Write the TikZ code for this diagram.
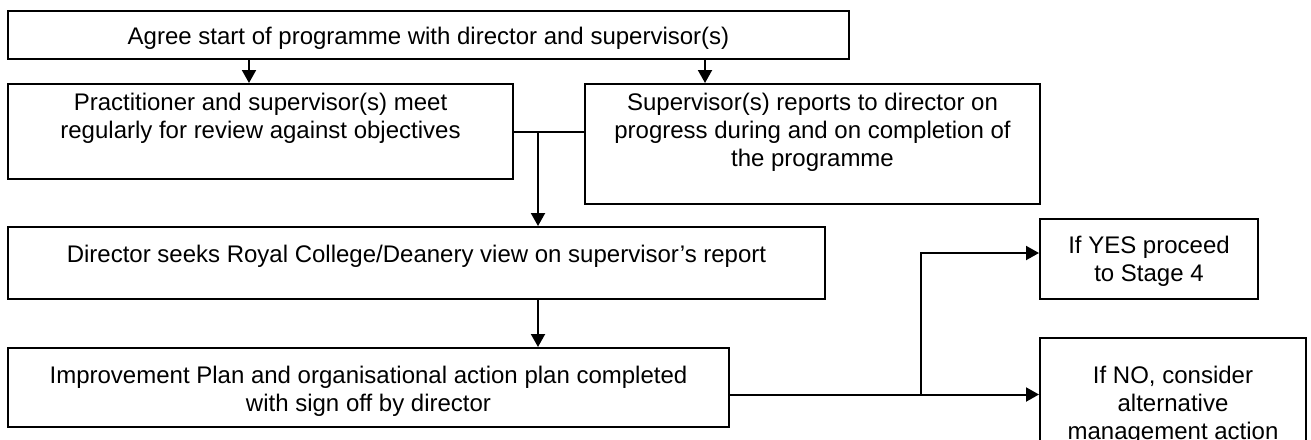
\documentclass[tikz,border=0pt]{standalone}
\usepackage{fontspec}
\setmainfont{Liberation Sans}
\usepackage{tikz}
\usetikzlibrary{arrows.meta, positioning}

% text block of a box: width, height, first baseline, lines
\newcommand{\boxtxt}[4]{\parbox[t][#2][t]{#1}{\centering\rule{0pt}{#3}#4}}

\tikzset{
  stagebox/.style={draw, line width=1pt, inner sep=0pt, anchor=north west,
    font=\fontsize{12pt}{14pt}\selectfont},
  link/.style={line width=1pt},
  arr/.style={line width=1pt, -{Triangle[length=6.5pt, width=7pt]}}
}

\begin{document}
\begin{tikzpicture}[x=0.5pt, y=-0.5pt]
  \useasboundingbox (0,0) rectangle (1311,439);
  % Boxes
  \node[stagebox] (agree) at (7,10) {\boxtxt{420.5pt}{24pt}{16.5pt}{Agree start of programme with director and supervisor(s)}};
  \node[stagebox] (meet) at (7,83) {\boxtxt{252.5pt}{47.5pt}{13pt}{Practitioner and supervisor(s) meet\\regularly for review against objectives}};
  \node[stagebox] (report) at (584,83) {\boxtxt{227.5pt}{60pt}{13pt}{Supervisor(s) reports to director on\\progress during and on completion of\\the programme}};
  \node[stagebox] (seek) at (7,226) {\boxtxt{408.5pt}{36pt}{17.5pt}{Director seeks Royal College/Deanery view on supervisor’s report}};
  \node[stagebox] (plan) at (7,347) {\boxtxt{360.5pt}{39.5pt}{17.5pt}{Improvement Plan and organisational action plan completed\\with sign off by director}};
  \node[stagebox] (yes) at (1039,218) {\boxtxt{109pt}{40pt}{17pt}{If YES proceed\\to Stage 4}};
  \node[stagebox] (no) at (1039,337) {\boxtxt{133pt}{65pt}{22.5pt}{If NO, consider\\alternative\\management action}};
  % Junctions
  \coordinate (join) at ([xshift=12pt]meet.east);
  \coordinate (split) at ([xshift=95.5pt, yshift=-3.5pt]plan.east);
  % Arrows
  \draw[arr] ([xshift=-89.75pt]agree.south) -- ([xshift=-89.75pt]agree.south |- meet.north);
  \draw[arr] ([xshift=138.25pt]agree.south) -- ([xshift=138.25pt]agree.south |- report.north);
  \draw[link] (meet.east) -- (meet.east -| report.west);
  \draw[arr] (join) -- (join |- seek.north);
  \draw[arr] (join |- seek.south) -- (join |- plan.north);
  \draw[arr] ([yshift=-3.5pt]plan.east) -- (split -| no.west);
  \draw[arr] (split) |- ([yshift=3pt]yes.west);
\end{tikzpicture}
\end{document}
